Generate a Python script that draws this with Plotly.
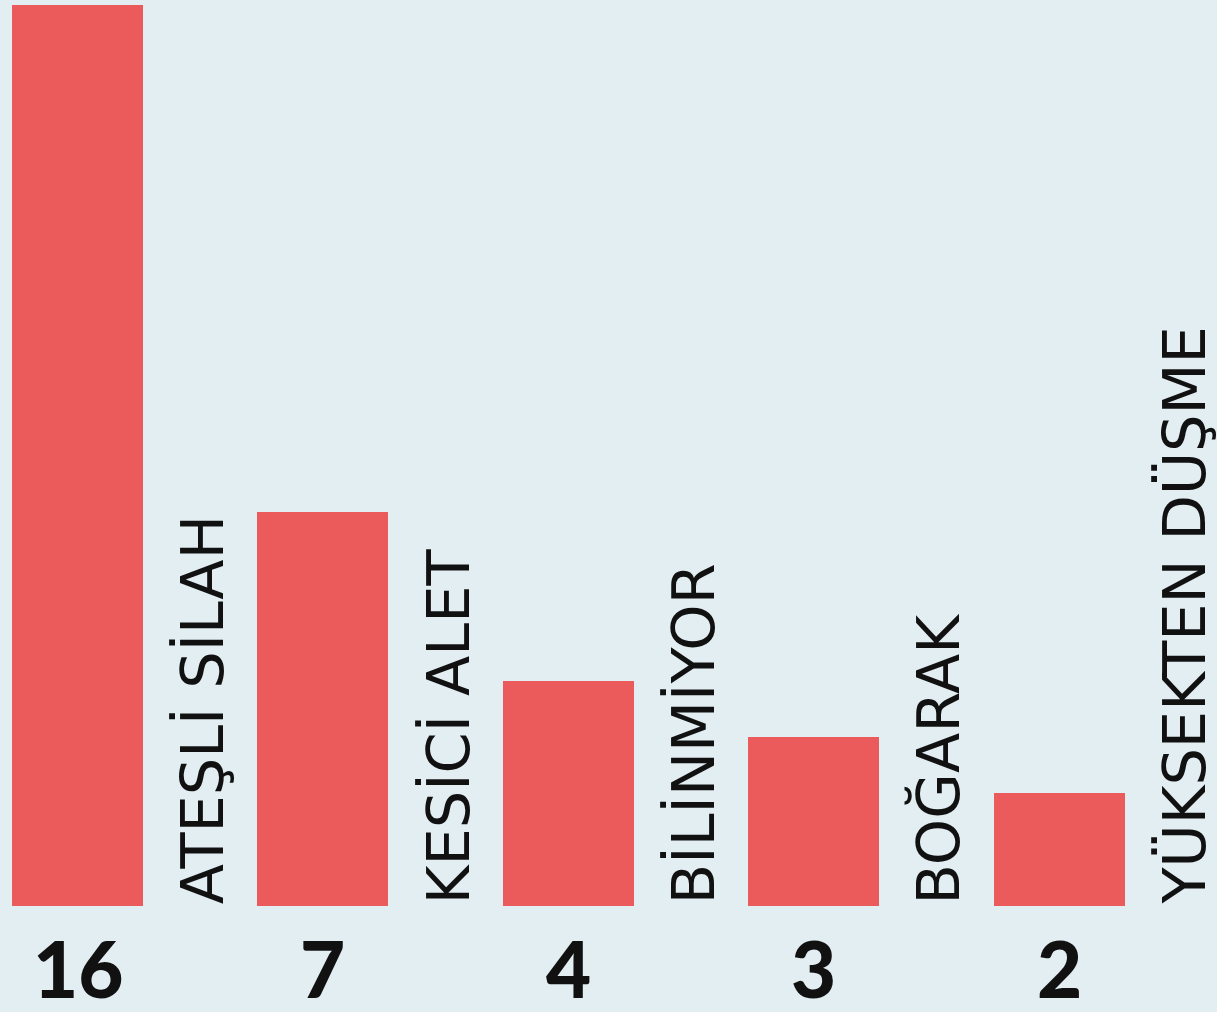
import plotly.graph_objects as go

categories = ["ATEŞLİ SİLAH", "KESİCİ ALET", "BİLİNMİYOR", "BOĞARAK", "YÜKSEKTEN DÜŞME"]
values = [16, 7, 4, 3, 2]

BG = "#e3eef3"
BAR = "#eb5b5b"

x = list(range(len(categories)))

fig = go.Figure()
fig.add_trace(go.Bar(
    x=x, y=values, width=0.534,
    marker=dict(color=BAR, line=dict(width=0)),
    hoverinfo="skip", showlegend=False,
))

for i, (c, v) in enumerate(zip(categories, values)):
    fig.add_annotation(
        x=i + 0.51, y=0, xref="x", yref="y",
        text=c, textangle=-90, showarrow=False,
        xanchor="center", yanchor="bottom", yshift=0,
        font=dict(family="DejaVu Sans, sans-serif", size=59, color="#111111"),
    )
    fig.add_annotation(
        x=i, y=0.043, xref="x", yref="paper",
        text=str(v), showarrow=False,
        xanchor="center", yanchor="middle",
        font=dict(family="Lato, sans-serif", size=78, color="#111111", weight=900),
    )

fig.update_layout(
    width=1217, height=1012,
    margin=dict(l=0, r=0, t=0, b=0),
    paper_bgcolor=BG, plot_bgcolor=BG,
    xaxis=dict(range=[-0.316, 4.643], visible=False, fixedrange=True),
    yaxis=dict(range=[-1.88, 16.09], visible=False, fixedrange=True),
    bargap=0,
)

fig.write_html(
    "out.html",
    config={"displayModeBar": False},
    post_script="document.body.style.margin='0';document.body.style.overflow='hidden';document.body.style.background='%s';" % BG,
)
